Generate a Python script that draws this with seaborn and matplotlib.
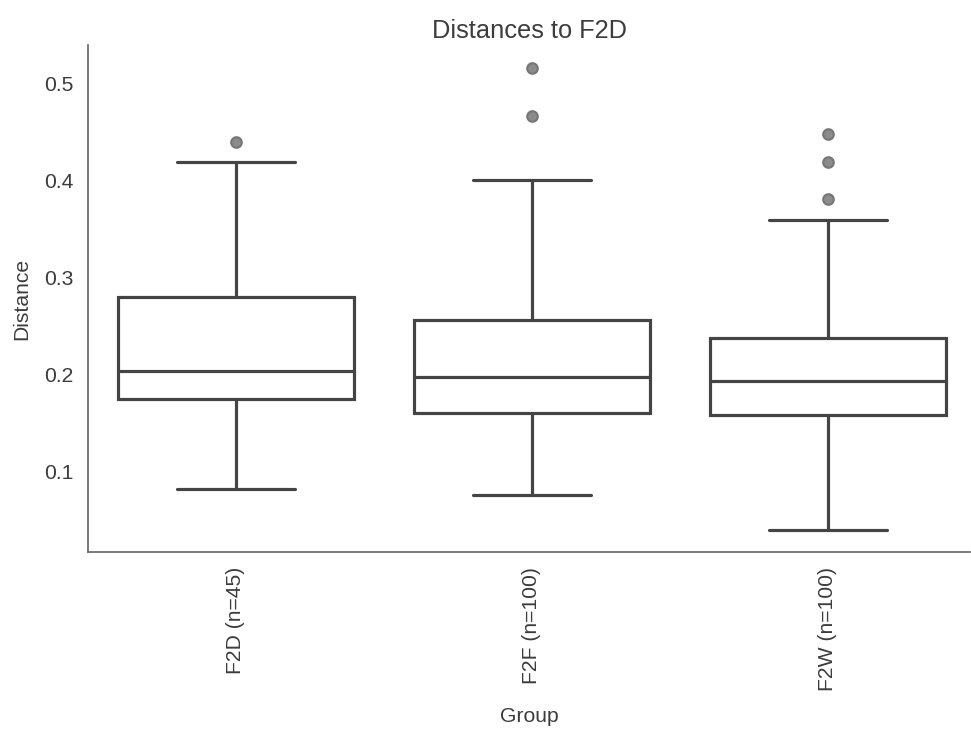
#!/usr/bin/env python3

import matplotlib
matplotlib.use("Agg")
import matplotlib.pyplot as plt
import seaborn as sns

DPI = 152
FIGSIZE = (971 / DPI, 731 / DPI)

# box stats
groups = ["F2D (n=45)", "F2F (n=100)", "F2W (n=100)"]
whisker_low = [0.0825, 0.0763, 0.0402]
q1 = [0.175, 0.161, 0.1588]
median = [0.204, 0.198, 0.1938]
q3 = [0.2804, 0.2567, 0.2381]
whisker_high = [0.4196, 0.401, 0.3598]
outliers = [
    [0.440],
    [0.467, 0.5165],
    [0.3814, 0.4196, 0.4485],
]

LINE = "#444444"
TEXT = "#3c3c3c"


def plot_distances(output_png):
    sns.set_style("white", {"axes.edgecolor": "#666666",
                            "text.color": TEXT,
                            "axes.labelcolor": TEXT,
                            "xtick.color": TEXT,
                            "ytick.color": TEXT})
    plt.rcParams["font.family"] = ["Liberation Sans", "DejaVu Sans"]

    fig, ax = plt.subplots(figsize=FIGSIZE)

    stats = []
    for i, name in enumerate(groups):
        stats.append({
            "label": name,
            "whislo": whisker_low[i],
            "q1": q1[i],
            "med": median[i],
            "q3": q3[i],
            "whishi": whisker_high[i],
            "fliers": outliers[i],
        })

    line_kw = dict(color=LINE, linewidth=1.5)
    ax.bxp(
        stats,
        positions=range(len(groups)),
        widths=0.8,
        patch_artist=True,
        boxprops=dict(facecolor="white", edgecolor=LINE, linewidth=1.5),
        medianprops=line_kw,
        whiskerprops=line_kw,
        capprops=line_kw,
        flierprops=dict(marker="o", markerfacecolor="#8c8c8c",
                        markeredgecolor="#777777", markersize=5),
    )

    ax.set_xlim(-0.5, 2.48)
    ax.set_ylim(0.0175, 0.540)
    ax.set_yticks([0.1, 0.2, 0.3, 0.4, 0.5])
    ax.set_xticks(range(len(groups)))
    ax.set_xticklabels(groups, rotation=90)

    ax.set_title("Distances to F2D", fontsize=12, pad=3.5)
    ax.set_xlabel("Group", fontsize=10, labelpad=7.5)
    ax.set_ylabel("Distance", fontsize=10, labelpad=6)
    ax.tick_params(labelsize=10)

    sns.despine(ax=ax)

    fig.subplots_adjust(left=0.0906, right=0.999, top=0.9384, bottom=0.2449)
    fig.savefig(output_png, dpi=DPI)
    plt.close(fig)


if __name__ == '__main__':
    plot_distances("out.png")
